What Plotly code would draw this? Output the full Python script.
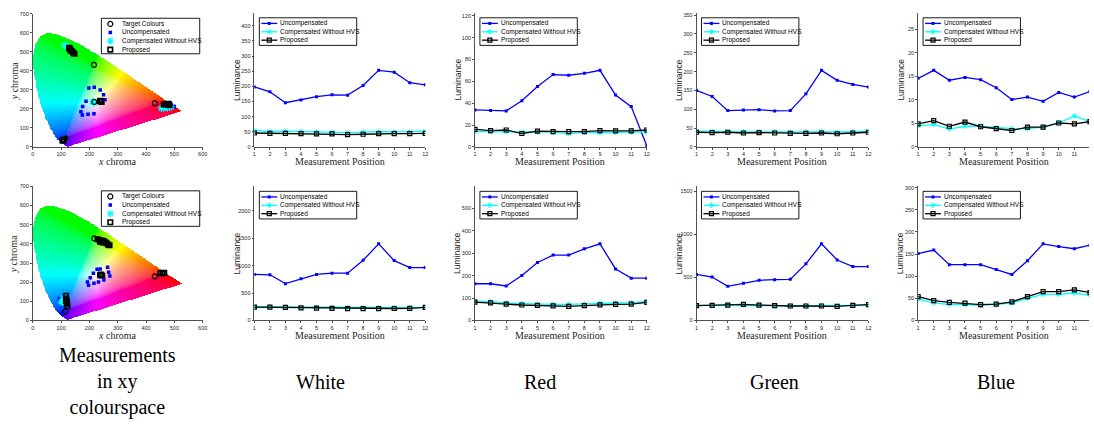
import numpy as np
import plotly.graph_objects as go

W, H = 1094, 428

# ---------------- data ----------------
positions = list(range(1, 13))

# top row (scenario 1)
white1_unc = [198, 182, 146, 155, 166, 172, 171, 203, 253, 247, 212, 205]
white1_cmp = [55, 51, 52, 51, 50, 49, 47, 49, 51, 50, 50, 52]
white1_pro = [46, 45, 45, 44, 43, 43, 41, 42, 44, 44, 44, 45]

red1_unc = [33.9, 33.3, 33.0, 42.3, 55.3, 66.2, 65.6, 67.4, 70.1, 47.5, 36.9, 0.9]
red1_cmp = [14.0, 14.0, 14.0, 13.5, 13.5, 13.5, 12.0, 13.5, 13.0, 13.5, 13.5, 13.5]
red1_pro = [16.0, 15.0, 15.5, 12.3, 14.5, 14.0, 14.0, 14.0, 15.0, 14.8, 14.8, 15.5]

green1_unc = [150, 134, 96.5, 98, 99, 95.6, 96.5, 141, 203.5, 177, 166, 159]
green1_cmp = [42, 41, 41, 40, 40, 40, 39, 40, 41, 39, 40, 42]
green1_pro = [39, 38, 39, 37, 38, 37, 36, 36, 37, 35, 37, 39]

blue1_unc = [14.6, 16.3, 14.2, 14.8, 14.3, 12.6, 10.1, 10.6, 9.7, 11.6, 10.6, 11.8]
blue1_cmp = [4.5, 4.8, 3.8, 4.4, 4.4, 4.1, 3.9, 3.9, 4.2, 5.1, 6.6, 5.4]
blue1_pro = [4.9, 5.6, 4.4, 5.3, 4.3, 3.9, 3.5, 4.2, 4.2, 5.1, 4.9, 5.4]

# bottom row (scenario 2)
white2_unc = [838, 832, 671, 760, 838, 862, 862, 1096, 1395, 1090, 964, 964]
white2_cmp = [250, 248, 240, 235, 233, 230, 228, 230, 232, 232, 233, 240]
white2_pro = [245, 242, 238, 228, 225, 220, 215, 215, 215, 218, 222, 238]

red2_unc = [164, 164, 154, 201, 259, 292, 292, 320, 342, 230, 189, 189]
red2_cmp = [85, 84, 78, 75, 73, 72, 72, 73, 77, 78, 80, 84]
red2_pro = [82, 79, 73, 69, 67, 65, 63, 66, 70, 72, 73, 81]

green2_unc = [534, 504, 397, 431, 466, 473, 477, 657, 889, 702, 626, 626]
green2_cmp = [175, 175, 178, 180, 178, 172, 170, 170, 172, 172, 176, 180]
green2_pro = [172, 176, 179, 187, 179, 172, 168, 168, 168, 164, 176, 183]

blue2_unc = [151, 159, 126, 126, 126, 115, 104, 135, 173, 167, 162, 170]
blue2_cmp = [48, 40, 36, 36, 34, 36, 39, 50, 59, 59, 62, 57]
blue2_pro = [54, 45, 41, 39, 36, 37, 42, 54, 65, 65, 69, 63]

# chromaticity measurements (xy * 720)
c1_target_x = [216, 431, 116, 217]
c1_target_y = [432, 230, 45, 237]
c1_unc_x = [124, 128, 133, 138, 198, 217, 238, 250, 255, 238, 216, 195, 175, 170, 176, 188, 488, 494, 497, 500, 104, 108]
c1_unc_y = [528, 522, 515, 505, 310, 314, 300, 274, 248, 232, 175, 172, 168, 185, 213, 241, 218, 216, 214, 212, 32, 36]
c1_cmp_x = [111, 116, 121, 211, 214, 217, 454, 462, 475, 483, 489, 111, 113]
c1_cmp_y = [535, 531, 527, 238, 236, 232, 203, 204, 206, 209, 211, 38, 42]
c1_pro_x = [128, 130, 131, 134, 138, 142, 147, 237, 239, 243, 463, 468, 472, 477, 480, 483, 105, 108, 110]
c1_pro_y = [522, 518, 515, 508, 503, 497, 490, 240, 243, 237, 223, 225, 226, 222, 227, 219, 33, 37, 39]

c2_target_x = [217, 431, 115, 237]
c2_target_y = [429, 230, 46, 237]
c2_unc_x = [227, 272, 227, 238, 264, 268, 272, 251, 232, 216, 197, 193, 203, 214, 466, 94, 96, 98, 102, 93]
c2_unc_y = [425, 391, 268, 269, 278, 252, 232, 211, 201, 194, 184, 201, 223, 247, 247, 115, 101, 88, 77, 103]
c2_cmp_x = [233, 250, 242, 459, 100, 104, 107]
c2_cmp_y = [422, 412, 238, 248, 98, 91, 112]
c2_pro_x = [229, 236, 240, 245, 252, 257, 261, 266, 271, 238, 247, 240, 245, 238, 451, 458, 464, 117, 118, 120, 121, 122, 117]
c2_pro_y = [424, 420, 414, 417, 414, 407, 403, 396, 393, 410, 407, 240, 235, 237, 247, 247, 249, 129, 115, 101, 88, 74, 101]

# CIE 1931 spectral locus (x, y), 380..700 nm
locus_x = [0.1741, 0.1738, 0.1733, 0.1726, 0.1714, 0.1689, 0.1644, 0.1566, 0.1440, 0.1241, 0.1096,
           0.0913, 0.0687, 0.0454, 0.0235, 0.0082, 0.0039, 0.0139, 0.0389, 0.0743, 0.1142, 0.1547,
           0.1929, 0.2296, 0.2658, 0.3016, 0.3373, 0.3731, 0.4087, 0.4441, 0.4788, 0.5125, 0.5448,
           0.5752, 0.6029, 0.6270, 0.6658, 0.6915, 0.7079, 0.7190, 0.7260, 0.7300, 0.7334, 0.7347]
locus_y = [0.0050, 0.0049, 0.0048, 0.0048, 0.0051, 0.0069, 0.0109, 0.0177, 0.0297, 0.0578, 0.0868,
           0.1327, 0.2007, 0.2950, 0.4127, 0.5384, 0.6548, 0.7502, 0.8120, 0.8338, 0.8262, 0.8059,
           0.7816, 0.7543, 0.7243, 0.6923, 0.6589, 0.6245, 0.5896, 0.5547, 0.5202, 0.4866, 0.4544,
           0.4242, 0.3965, 0.3725, 0.3340, 0.3083, 0.2920, 0.2809, 0.2740, 0.2700, 0.2666, 0.2653]
CHROMA_SCALE = 720

BLUE = "rgb(0,0,255)"
CYAN = "rgb(0,255,255)"
BLACK = "rgb(0,0,0)"
AXC = "#262626"
SANS = "Liberation Sans"
SERIF = "Liberation Serif"


def px_x(p):
    return p / W


def px_y(p):
    return 1 - p / H


# ---------------- chromaticity image ----------------
def chroma_image():
    step = 2.5
    xs = np.arange(0, 600 + step, step)
    ys = np.arange(0, 700 + step, step)
    gx, gy = np.meshgrid(xs / CHROMA_SCALE, ys / CHROMA_SCALE)
    px = np.array(locus_x)
    py = np.array(locus_y)
    inside = np.zeros(gx.shape, dtype=bool)
    n = len(px)
    j = n - 1
    for i in range(n):
        xi, yi, xj, yj = px[i], py[i], px[j], py[j]
        cond = ((yi > gy) != (yj > gy))
        with np.errstate(divide="ignore", invalid="ignore"):
            xint = (xj - xi) * (gy - yi) / (yj - yi + 1e-12) + xi
        inside ^= cond & (gx < xint)
        j = i
    yy = np.where(gy > 1e-4, gy, 1e-4)
    X = gx / yy
    Y = np.ones_like(gx)
    Z = (1 - gx - gy) / yy
    M = np.array([[3.2406, -1.5372, -0.4986],
                  [-0.9689, 1.8758, 0.0415],
                  [0.0557, -0.2040, 1.0570]])
    rgb = np.stack([M[k, 0] * X + M[k, 1] * Y + M[k, 2] * Z for k in range(3)], axis=-1)
    rgb = np.clip(rgb, 0, None)
    mx = rgb.max(axis=-1, keepdims=True)
    mx[mx == 0] = 1
    rgb = rgb / mx
    rgb = np.where(rgb <= 0.0031308, 12.92 * rgb, 1.055 * np.power(rgb, 1 / 2.4) - 0.055)
    img = (np.clip(rgb, 0, 1) * 255).astype(np.uint8)
    img[~inside] = 255
    return img, step


img, step = chroma_image()

fig = go.Figure()

# subplot geometry (pixels)
chroma_dom_x = (31, 202)
line_dom_x = [(254, 426), (476, 649), (699, 872), (922, 1094)]
line_x_range = [[1, 12], [1, 12], [1, 12], [1, 1 + 11 * (1094 - 922) / 173]]
rows_y = [(10, 146), (186, 322)]
chroma_rows_y = [(11, 146), (186, 322)]

row_data = [
    [(white1_unc, white1_cmp, white1_pro, 50), (red1_unc, red1_cmp, red1_pro, 20),
     (green1_unc, green1_cmp, green1_pro, 50), (blue1_unc, blue1_cmp, blue1_pro, 5)],
    [(white2_unc, white2_cmp, white2_pro, 500), (red2_unc, red2_cmp, red2_pro, 100),
     (green2_unc, green2_cmp, green2_pro, 500), (blue2_unc, blue2_cmp, blue2_pro, 50)],
]
chroma_data = [
    (c1_target_x, c1_target_y, c1_unc_x, c1_unc_y, c1_cmp_x, c1_cmp_y, c1_pro_x, c1_pro_y),
    (c2_target_x, c2_target_y, c2_unc_x, c2_unc_y, c2_cmp_x, c2_cmp_y, c2_pro_x, c2_pro_y),
]

axis_common = dict(showgrid=False, zeroline=False, showline=True, linecolor=AXC, linewidth=0.8,
                   ticks="outside", ticklen=2, tickwidth=0.8, tickcolor=AXC,
                   tickfont=dict(family=SANS, size=5.5, color=AXC), mirror=False, fixedrange=True)

# marker styles
M_TARGET = dict(symbol="circle-open", size=5, color=BLACK, line=dict(color=BLACK, width=1.2))
M_UNC_CH = dict(symbol="square", size=3.5, color=BLUE, line=dict(width=0))
M_CMP_CH = dict(symbol="asterisk-open", size=6, color=CYAN, line=dict(color=CYAN, width=1.2))
M_PRO_CH = dict(symbol="square-open", size=4.5, color=BLACK, line=dict(color=BLACK, width=1.6))
M_UNC = dict(symbol="square", size=3, color=BLUE, line=dict(width=0))
M_CMP = dict(symbol="asterisk-open", size=4.5, color=CYAN, line=dict(color=CYAN, width=1))
M_PRO = dict(symbol="square-open", size=4, color=BLACK, line=dict(color=BLACK, width=1.2))

layout_axes = {}
annotations = []
ax_id = 0


def axname(k, letter):
    return f"{letter}axis" if k == 1 else f"{letter}axis{k}"


def ref(k, letter):
    return letter if k == 1 else f"{letter}{k}"


def add_text(x, y, text, font, angle=0, xanchor="center"):
    annotations.append(dict(x=px_x(x), y=px_y(y), xref="paper", yref="paper", text=text,
                            showarrow=False, xanchor=xanchor, yanchor="middle", textangle=angle,
                            font=font))


legend_specs = []  # (x0, y0, w, h, items, spacing, is_chroma)

for r in range(2):
    # chromaticity subplot
    ax_id += 1
    k = ax_id
    cy0, cy1 = chroma_rows_y[r]
    fig.add_trace(go.Image(z=img, x0=0, dx=step, y0=0, dy=step, colormodel="rgb",
                           hoverinfo="skip", xaxis=ref(k, "x"), yaxis=ref(k, "y")))
    tx, ty, ux, uy, cx, cyy, prx, pry = chroma_data[r]
    fig.add_trace(go.Scatter(x=ux, y=uy, mode="markers", name="Uncompensated", marker=M_UNC_CH,
                             xaxis=ref(k, "x"), yaxis=ref(k, "y"), showlegend=False))
    fig.add_trace(go.Scatter(x=cx, y=cyy, mode="markers", name="Compensated Without HVS", marker=M_CMP_CH,
                             xaxis=ref(k, "x"), yaxis=ref(k, "y"), showlegend=False))
    fig.add_trace(go.Scatter(x=prx, y=pry, mode="markers", name="Proposed", marker=M_PRO_CH,
                             xaxis=ref(k, "x"), yaxis=ref(k, "y"), showlegend=False))
    fig.add_trace(go.Scatter(x=tx, y=ty, mode="markers", name="Target Colours", marker=M_TARGET,
                             xaxis=ref(k, "x"), yaxis=ref(k, "y"), showlegend=False))
    layout_axes[axname(k, "x")] = dict(axis_common, domain=[px_x(chroma_dom_x[0]), px_x(chroma_dom_x[1])],
                                       range=[0, 600], tickvals=list(range(0, 601, 100)),
                                       anchor=ref(k, "y"))
    layout_axes[axname(k, "y")] = dict(axis_common, domain=[px_y(cy1), px_y(cy0)],
                                       range=[0, 700], tickvals=list(range(0, 701, 100)),
                                       anchor=ref(k, "x"), scaleanchor=False, autorange=False)
    add_text(116.5, cy1 + 15, "<i>x</i> chroma", dict(family=SERIF, size=10, color=AXC))
    add_text(12, (cy0 + cy1) / 2, "<i>y</i> chroma", dict(family=SERIF, size=10, color=AXC), angle=-90)
    legend_specs.append((100, cy0 + 4.5, 99, 36,
                         [("Target Colours", "target"), ("Uncompensated", "unc"),
                          ("Compensated Without HVS", "cmp"), ("Proposed", "pro")], 8.7, True))

    # line subplots
    for c in range(4):
        ax_id += 1
        k = ax_id
        unc, cmp_, pro, dtick = row_data[r][c]
        y0, y1 = rows_y[r]
        ymax = 1.75 * max(unc)
        fig.add_trace(go.Scatter(x=positions, y=unc, mode="lines+markers", name="Uncompensated",
                                 line=dict(color=BLUE, width=1.3), marker=M_UNC,
                                 xaxis=ref(k, "x"), yaxis=ref(k, "y"), showlegend=False))
        fig.add_trace(go.Scatter(x=positions, y=cmp_, mode="lines+markers", name="Compensated Without HVS",
                                 line=dict(color=CYAN, width=1.3), marker=M_CMP,
                                 xaxis=ref(k, "x"), yaxis=ref(k, "y"), showlegend=False))
        fig.add_trace(go.Scatter(x=positions, y=pro, mode="lines+markers", name="Proposed",
                                 line=dict(color=BLACK, width=1.3), marker=M_PRO,
                                 xaxis=ref(k, "x"), yaxis=ref(k, "y"), showlegend=False))
        xd = line_dom_x[c]
        layout_axes[axname(k, "x")] = dict(axis_common, domain=[px_x(xd[0]), px_x(xd[1])],
                                           range=line_x_range[c], tickvals=positions,
                                           anchor=ref(k, "y"))
        layout_axes[axname(k, "y")] = dict(axis_common, domain=[px_y(y1), px_y(y0)],
                                           range=[0, ymax], dtick=dtick, tick0=0,
                                           anchor=ref(k, "x"))
        add_text(xd[0] + 86, y1 + 15, "Measurement Position", dict(family=SERIF, size=10, color=AXC))
        add_text(xd[0] - 17.5, (y0 + y1) / 2, "Luminance", dict(family=SANS, size=8.5, color=AXC), angle=-90)
        legend_specs.append((xd[0] + 5, y0 + 5, 98, 28,
                             [("Uncompensated", "unc"), ("Compensated Without HVS", "cmp"),
                              ("Proposed", "pro")], 8.5, False))

# ---------------- legends (overlay axes in pixel space) ----------------
ax_id += 1
ko = ax_id
box_x, box_y = [], []
for (x0, y0, w, h, items, sp, is_chroma) in legend_specs:
    box_x += [x0, x0 + w, x0 + w, x0, x0, None]
    box_y += [y0, y0, y0 + h, y0 + h, y0, None]
fig.add_trace(go.Scatter(x=box_x, y=box_y, mode="lines", fill="toself", fillcolor="white",
                         line=dict(color=BLACK, width=0.9), hoverinfo="skip", showlegend=False,
                         xaxis=ref(ko, "x"), yaxis=ref(ko, "y")))

styles = {
    "target": (M_TARGET, None),
    "unc": (M_UNC, BLUE),
    "cmp": (M_CMP, CYAN),
    "pro": (M_PRO, BLACK),
}
for (x0, y0, w, h, items, sp, is_chroma) in legend_specs:
    for i, (label, key) in enumerate(items):
        yc = y0 + 5.7 + i * sp
        mk, lc = styles[key]
        if is_chroma:
            mk = {"target": M_TARGET, "unc": M_UNC_CH, "cmp": M_CMP_CH, "pro": M_PRO_CH}[key]
            fig.add_trace(go.Scatter(x=[x0 + 9], y=[yc], mode="markers", marker=mk,
                                     hoverinfo="skip", showlegend=False,
                                     xaxis=ref(ko, "x"), yaxis=ref(ko, "y")))
        else:
            lx0, lx1 = x0 + 2, x0 + 18
            fig.add_trace(go.Scatter(x=[lx0, (lx0 + lx1) / 2, lx1], y=[yc, yc, yc], mode="lines",
                                     line=dict(color=lc, width=1.3),
                                     hoverinfo="skip", showlegend=False,
                                     xaxis=ref(ko, "x"), yaxis=ref(ko, "y")))
            fig.add_trace(go.Scatter(x=[(lx0 + lx1) / 2], y=[yc], mode="markers", marker=mk,
                                     hoverinfo="skip", showlegend=False,
                                     xaxis=ref(ko, "x"), yaxis=ref(ko, "y")))
        add_text(x0 + 19, yc, label, dict(family=SANS, size=6.5, color=BLACK), xanchor="left")

layout_axes[axname(ko, "x")] = dict(domain=[0, 1], range=[0, W], visible=False, fixedrange=True,
                                    anchor=ref(ko, "y"))
layout_axes[axname(ko, "y")] = dict(domain=[0, 1], range=[H, 0], visible=False, fixedrange=True,
                                    anchor=ref(ko, "x"))

# ---------------- column captions ----------------
captions = [("Measurements<br>in xy<br>colourspace", 116, 384),
            ("White", 321, 384), ("Red", 541, 384), ("Green", 777, 384), ("Blue", 1000, 384)]
for text, cx, cyc in captions:
    add_text(cx, cyc, text, dict(family=SERIF, size=20, color=BLACK))

fig.update_layout(width=W, height=H, autosize=False, margin=dict(l=0, r=0, t=0, b=0, pad=0),
                  paper_bgcolor="white", plot_bgcolor="rgba(0,0,0,0)", showlegend=False,
                  hovermode=False, annotations=annotations, **layout_axes)

fig.write_html("out.html", config={"displayModeBar": False, "staticPlot": True},
               post_script="document.body.style.margin='0';document.body.style.overflow='hidden';")
